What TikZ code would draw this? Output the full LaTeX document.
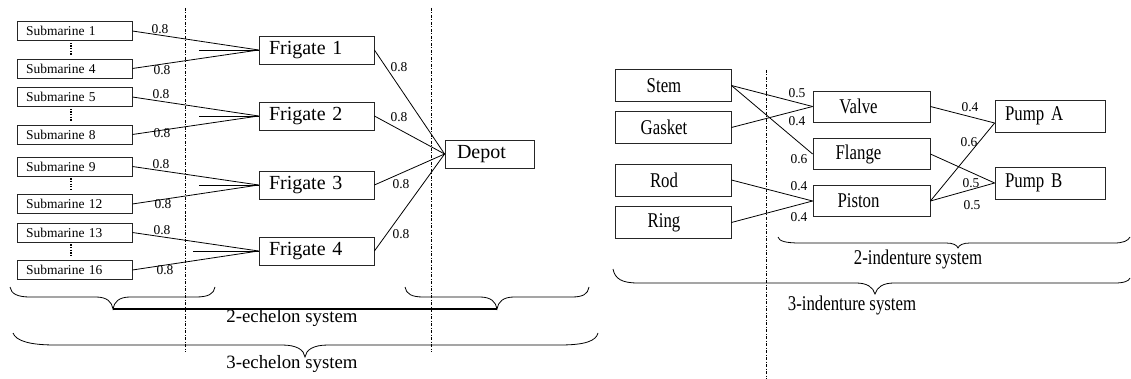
\documentclass[tikz,border=0pt]{standalone}
\usepackage{fontspec}
\setmainfont{Liberation Serif}
\newfontfamily\condfont[FakeStretch=0.8]{Liberation Serif}
\begin{document}
\begin{tikzpicture}[x=1pt,y=-1pt,
  every node/.style={inner sep=0pt},
  subbox/.style={draw=black!85, line width=0.8pt, text width=97pt, inner xsep=9pt, align=left,
    minimum height=19pt, font=\fontsize{13.5}{14}\selectfont},
  frbox/.style={draw=black!85, line width=0.8pt, text width=95pt, inner xsep=10pt, align=left,
    minimum height=28pt, font=\fontsize{20}{22}\selectfont},
  depbox/.style={draw=black!85, line width=0.8pt, text width=65pt, inner xsep=12pt, align=left,
    minimum height=28pt, font=\fontsize{20}{22}\selectfont},
  partbox/.style={draw=black!85, line width=0.8pt, minimum width=116pt, minimum height=32pt,
    font=\condfont\fontsize{21}{22}\selectfont, execute at end node={\hspace*{18pt}}},
  midbox/.style={draw=black!85, line width=0.8pt, minimum width=117pt, minimum height=31pt,
    font=\condfont\fontsize{21}{22}\selectfont, execute at end node={\hspace*{26pt}}},
  pumpbox/.style={draw=black!85, line width=0.8pt, text width=90pt, inner xsep=10pt, align=left,
    minimum height=32pt, font=\condfont\fontsize{21}{22}\selectfont},
  conn/.style={line width=0.8pt},
  lab/.style={font=\fontsize{13.5}{14}\selectfont},
  sysl/.style={font=\fontsize{18.8}{20}\selectfont},
  sysr/.style={font=\condfont\fontsize{21}{22}\selectfont},
  dashdot/.style={line width=0.9pt, dash pattern=on 3pt off 1.5pt on 1pt off 1.5pt},
  brace/.style={line width=0.8pt},
  vdots/.style={line width=2.4pt, dash pattern=on 1.3pt off 1.3pt}
]
\useasboundingbox (0,0) rectangle (1131,379);

% ---------------- left: echelon system ----------------
\node[subbox] (s1)  at (74.5,31)    {Submarine 1};
\node[subbox] (s4)  at (74.5,68.5)  {Submarine 4};
\node[subbox] (s5)  at (74.5,97)    {Submarine 5};
\node[subbox] (s8)  at (74.5,134.5) {Submarine 8};
\node[subbox] (s9)  at (74.5,166.5) {Submarine 9};
\node[subbox] (s12) at (74.5,204)   {Submarine 12};
\node[subbox] (s13) at (74.5,232.5) {Submarine 13};
\node[subbox] (s16) at (74.5,270)   {Submarine 16};

\draw[vdots] ([xshift=-3.5pt,yshift=-2pt]s1.south)  -- ([xshift=-3.5pt,yshift=3pt]s4.north);
\draw[vdots] ([xshift=-3.5pt,yshift=-2pt]s5.south)  -- ([xshift=-3.5pt,yshift=3pt]s8.north);
\draw[vdots] ([xshift=-3.5pt,yshift=-2pt]s9.south)  -- ([xshift=-3.5pt,yshift=3pt]s12.north);
\draw[vdots] ([xshift=-3.5pt,yshift=-2pt]s13.south) -- ([xshift=-3.5pt,yshift=3pt]s16.north);

\node[frbox] (f1) at (316.5,50)  {Frigate 1};
\node[frbox] (f2) at (316.5,116) {Frigate 2};
\node[frbox] (f3) at (316.5,185) {Frigate 3};
\node[frbox] (f4) at (316.5,251) {Frigate 4};

\node[depbox] (dep) at (489.5,154) {Depot};

\draw[conn] (s1.east) -- (f1.west);
\draw[conn] (s4.east) -- (f1.west);
\draw[conn] (s5.east) -- (f2.west);
\draw[conn] (s8.east) -- (f2.west);
\draw[conn] (s9.east) -- (f3.west);
\draw[conn] (s12.east) -- (f3.west);
\draw[conn] (s13.east) -- (f4.west);
\draw[conn] (s16.east) -- (f4.west);

\coordinate (st1) at (199,50);
\coordinate (st2) at (199,116);
\coordinate (st3) at (199,185);
\coordinate (st4) at (193,251);
\draw[conn] (st1) -- (f1.west);
\draw[conn] (st2) -- (f2.west);
\draw[conn] (st3) -- (f3.west);
\draw[conn] (st4) -- (f4.west);

\draw[conn] (f1.east) -- (dep.west);
\draw[conn] (f2.east) -- (dep.west);
\draw[conn] (f3.east) -- (dep.west);
\draw[conn] (f4.east) -- (dep.west);

\node[lab] (ls1)  at (160,29)  {0.8};
\node[lab] (ls4)  at (162,70)  {0.8};
\node[lab] (ls5)  at (161,94)  {0.8};
\node[lab] (ls8)  at (162,133) {0.8};
\node[lab] (ls9)  at (161,164) {0.8};
\node[lab] (ls12) at (163,204) {0.8};
\node[lab] (ls13) at (162,230) {0.8};
\node[lab] (ls16) at (165,270) {0.8};
\node[lab] (lf1) at (399,67)  {0.8};
\node[lab] (lf2) at (399,117) {0.8};
\node[lab] (lf3) at (401,184) {0.8};
\node[lab] (lf4) at (401,234) {0.8};

\draw[dashdot] (185,8) -- (185,352);
\draw[dashdot] (431,8) -- (431,352);

% small braces
\draw[brace] (10,287) .. controls (11,294) and (18,297) .. (30,297) -- (96,297)
  .. controls (107,297) and (112,302) .. (113,309)
  .. controls (114,302) and (119,297) .. (130,297) -- (196,297)
  .. controls (208,297) and (214,294) .. (215,287);
\draw[brace] (405,287) .. controls (406,294) and (412,297) .. (423,297) -- (480,297)
  .. controls (491,297) and (496,302) .. (497,309)
  .. controls (498,302) and (503,297) .. (514,297) -- (572,297)
  .. controls (583,297) and (588,294) .. (589,287);
\draw[line width=2pt] (113,309) -- (497,309);
\node[sysl] (t2e) at (292,318) {2-echelon system};

% big brace
\draw[brace] (13,333) .. controls (16,341) and (30,345) .. (55,345) -- (282,345)
  .. controls (297,345) and (304,350) .. (305,357)
  .. controls (306,350) and (313,345) .. (328,345) -- (560,345)
  .. controls (585,345) and (596,341) .. (598,333);
\node[sysl] (t3e) at (292,364) {3-echelon system};

% ---------------- right: indenture system ----------------
\node[partbox] (stem)   at (673,85.5)  {Stem};
\node[partbox] (gasket) at (673,127.5) {Gasket};
\node[partbox] (rod)    at (673,180)   {Rod};
\node[partbox] (ring)   at (673,222.5) {Ring};

\node[midbox] (valve)  at (871.5,106.5) {Valve};
\node[midbox] (flange) at (871.5,154)   {Flange};
\node[midbox] (piston) at (871.5,201)   {Piston};

\node[pumpbox] (pa) at (1050,116) {Pump A};
\node[pumpbox] (pb) at (1050,183) {Pump B};
\coordinate (pain) at ([yshift=-7pt]pa.west);

\draw[conn] (stem.east) -- (valve.west);
\draw[conn] (stem.east) -- (flange.west);
\draw[conn] (gasket.east) -- (valve.west);
\draw[conn] (rod.east) -- (piston.west);
\draw[conn] (ring.east) -- (piston.west);
\draw[conn] (valve.east) -- (pain);
\draw[conn] (flange.east) -- (pb.west);
\draw[conn] (piston.east) -- (pain);
\draw[conn] (piston.east) -- (pb.west);

\node[lab] (l1) at (797,93)  {0.5};
\node[lab] (l2) at (797,121) {0.4};
\node[lab] (l3) at (799,159) {0.6};
\node[lab] (l4) at (799,186) {0.4};
\node[lab] (l5) at (799,217) {0.4};
\node[lab] (l6) at (970,107) {0.4};
\node[lab] (l7) at (969,142) {0.6};
\node[lab] (l8) at (971,183) {0.5};
\node[lab] (l9) at (972,205) {0.5};

\draw[dashdot] (766,70) -- (766,379);

\draw[brace] (778,237) .. controls (779,241) and (785,243) .. (800,243) -- (946,243)
  .. controls (953,243) and (957,245) .. (958,248)
  .. controls (959,245) and (963,243) .. (970,243) -- (1114,243)
  .. controls (1123,243) and (1128,241) .. (1130,237);
\node[sysr] (t2i) at (918,259) {2-indenture system};

\draw[brace] (613,269) .. controls (615,279) and (622,283) .. (638,283) -- (856,283)
  .. controls (867,283) and (873,287) .. (875,294)
  .. controls (877,287) and (883,283) .. (894,283) -- (1115,283)
  .. controls (1124,283) and (1129,281) .. (1130,278);
\node[sysr] (t3i) at (852,305) {3-indenture system};
\end{tikzpicture}
\end{document}
